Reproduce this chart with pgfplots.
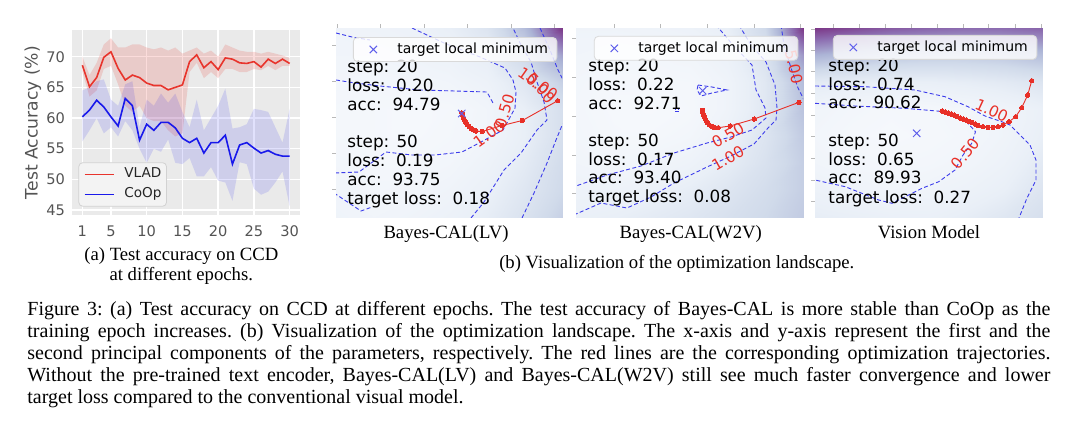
\documentclass[border=0pt]{standalone}
\usepackage{fontspec}
\setmainfont{Liberation Serif}
\newfontfamily\dejavu{DejaVu Sans}
\usepackage{pgfplots}
\usepackage{pgfplotstable}
\pgfplotsset{compat=1.18}

\definecolor{vred}{RGB}{232,52,44}
\definecolor{cblue}{RGB}{25,25,235}
\definecolor{trred}{RGB}{232,48,40}
\definecolor{cdash}{RGB}{60,60,235}
\definecolor{mk}{RGB}{95,95,235}
\definecolor{ggbg}{RGB}{234,234,234}
\definecolor{legbg}{RGB}{243,243,243}

\newcommand{\labfont}{\dejavu\fontsize{7.7}{8}\selectfont}
\newcommand{\annfont}{\dejavu\fontsize{8.4}{9.4}\selectfont}
\newcommand{\capfont}{\fontsize{9.35}{11}\selectfont}
\newcommand{\mcapfont}{\fontsize{10}{11}\selectfont\frenchspacing}
\newcommand{\jline}[1]{\hbox to 511.5pt{#1}}

\pgfplotstableread{
e v c
1  68.6  60.2
2  65.1  61.3
3  66.6  62.9
4  69.9  61.8
5  70.8  60.2
6  68.1  58.7
7  66.2  63.2
8  67.0  62.0
9  66.6  56.4
10 65.7  59.0
11 65.3  58.0
12 65.3  59.3
13 64.6  59.3
14 65.0  58.4
15 65.4  56.7
16 69.2  56.0
17 70.3  56.7
18 68.2  54.3
19 69.2  56.0
20 67.9  56.0
21 69.8  57.2
22 69.6  52.5
23 69.0  55.6
24 68.9  56.0
25 69.2  55.1
26 68.3  54.3
27 69.6  54.7
28 68.9  54.1
29 69.6  53.8
30 68.9  53.8
}\acc

\pgfplotsset{
  colormap={bupu}{rgb255=(248,250,253) rgb255=(233,239,247) rgb255=(208,218,234) rgb255=(172,180,214) rgb255=(140,108,176) rgb255=(118,38,122)},
  land/.style={scale only axis, anchor=north west, height=94.5pt, y dir=reverse,
    ymin=28, ymax=217, axis line style={gray!55, line width=0.4pt},
    tick align=outside, major tick length=1.8pt, tick style={gray!55, line width=0.4pt},
    xticklabels={}, yticklabels={}, xtick pos=right, ytick pos=left,
    point meta min=0, point meta max=1, colormap name=bupu,
    legend style={draw=gray!30, fill=white, fill opacity=0.8, text opacity=1,
      rounded corners=2pt, inner sep=0pt, nodes={inner sep=0pt},
      font=\dejavu\fontsize{7}{8}\selectfont, anchor=north west, column sep=0pt},
    legend cell align=left,
    legend image code/.code={\path[draw=none, fill=none] (0pt,-6pt) rectangle (22pt,6pt); \draw[##1] plot coordinates {(10pt,0pt)};}},
  cline/.style={forget plot, draw=cdash, dash pattern=on 2pt off 1.2pt, line width=0.45pt},
  traj/.style={forget plot, trred, line width=0.45pt, mark=*, mark size=1.1pt, mark options={solid, fill=trred, draw=trred, line width=0pt}},
  tmin/.style={only marks, mark=x, mark size=2.6pt, color=mk, mark options={line width=0.5pt}},
}

\begin{document}
\begin{tikzpicture}

% ---------------- (a) ----------------
\begin{axis}[at={(36pt,-15pt)}, anchor=north west, scale only axis, width=114pt, height=92.5pt,
  xmin=-0.45, xmax=31.45, ymin=44.2, ymax=74.35,
  xtick={1,5,10,15,20,25,30}, ytick={45,50,55,60,65,70},
  axis background/.style={fill=ggbg},
  xmajorgrids, ymajorgrids, grid style={white, line width=0.7pt},
  axis line style={draw=none}, major tick length=0pt,
  /pgf/number format/assume math mode=true,
  tick label style={font=\dejavu\fontsize{7.3}{8.5}\selectfont, text=black!67},
  xticklabel style={yshift=-2pt},
  every axis y label/.style={at={(axis description cs:-0.171,0.5)}, rotate=90, anchor=center, font=\dejavu\fontsize{8.6}{10}\selectfont, text=black!67},
  ylabel={Test Accuracy (\%)},
  legend style={at={(0.028,0.045)}, anchor=south west, fill=legbg, draw=gray!35, rounded corners=2pt,
    font=\dejavu\fontsize{6.8}{8}\selectfont, text=black!85, inner xsep=2.5pt, inner ysep=2.4pt,
    row sep=3pt, column sep=5pt, nodes={inner sep=0pt, text height=5.2pt, text depth=1.8pt}},
  legend cell align=left,
  legend image code/.code={\draw[#1] (0pt,0pt) -- (14.5pt,0pt);},
]
\addplot[fill=vred, fill opacity=0.17, draw=none, forget plot] coordinates {
(1,70.0)(2,67.0)(3,69.0)(4,72.0)(5,73.0)(6,71.5)(7,71.5)(8,72.0)(9,72.0)(10,71.5)(11,71.2)(12,71.5)(13,71.0)(14,71.5)(15,70.5)(16,71.0)(17,71.5)(18,70.5)(19,71.0)(20,70.0)(21,72.0)(22,71.5)(23,71.0)(24,70.8)(25,70.8)(26,70.5)(27,70.8)(28,70.5)(29,70.2)(30,69.8)
(30,68.5)(29,68.5)(28,67.8)(27,68.5)(26,67.8)(25,68.0)(24,67.5)(23,67.5)(22,68.0)(21,68.0)(20,66.5)(19,67.5)(18,66.5)(17,69.0)(16,67.5)(15,57.5)(14,57.0)(13,58.0)(12,59.5)(11,59.5)(10,60.0)(9,62.0)(8,61.0)(7,62.0)(6,65.5)(5,68.5)(4,68.0)(3,64.5)(2,63.5)(1,67.5)} -- cycle;
\addplot[fill=cblue, fill opacity=0.13, draw=none, forget plot] coordinates {
(1,64.5)(2,65.0)(3,66.0)(4,66.3)(5,63.0)(6,62.0)(7,65.5)(8,66.0)(9,58.5)(10,63.0)(11,62.0)(12,64.0)(13,62.5)(14,64.0)(15,61.0)(16,58.5)(17,63.0)(18,58.0)(19,60.0)(20,62.0)(21,64.8)(22,58.3)(23,58.5)(24,59.0)(25,61.5)(26,61.3)(27,61.0)(28,58.5)(29,56.0)(30,61.5)
(30,45.6)(29,51.3)(28,49.5)(27,48.0)(26,47.5)(25,48.5)(24,52.5)(23,52.8)(22,46.5)(21,49.5)(20,49.8)(19,52.0)(18,50.5)(17,50.5)(16,53.5)(15,52.5)(14,52.7)(13,56.5)(12,54.5)(11,55.0)(10,52.7)(9,55.0)(8,58.0)(7,59.5)(6,57.0)(5,58.5)(4,57.5)(3,60.0)(2,58.0)(1,56.2)} -- cycle;
\addplot[vred, line width=0.8pt] table[x=e, y=v]{\acc};
\addlegendentry{VLAD}
\addplot[cblue, line width=0.8pt] table[x=e, y=c]{\acc};
\addlegendentry{CoOp}
\end{axis}

\node[anchor=base, inner sep=0pt, font=\capfont] at (90.65pt,-130.3pt) {(a) Test accuracy on CCD};
\node[anchor=base, inner sep=0pt, font=\capfont] at (90.65pt,-140.3pt) {at different epochs.};

% ---------------- (b) panel 1 ----------------
\begin{axis}[land, at={(168pt,-14pt)}, width=113pt, xmin=336, xmax=562,
  xtick={337.3,380.7,424.1,467.5,510.9,554.3}, ytick={45,81.7,117.3,153.3,189.3},
  legend style={at={(0.075,0.952)}}]
\addplot[surf, shader=interp, mesh/cols=7, point meta=explicit, forget plot] table[meta=c]{
x y c
336 28 .12
373.7 28 .13
411.3 28 .15
449 28 .20
486.7 28 .30
524.3 28 .55
562 28 .95
336 55 .10
373.7 55 .10
411.3 55 .12
449 55 .15
486.7 55 .22
524.3 55 .40
562 55 .65
336 82 .08
373.7 82 .07
411.3 82 .08
449 82 .10
486.7 82 .15
524.3 82 .28
562 82 .45
336 109 .06
373.7 109 .05
411.3 109 .04
449 109 .05
486.7 109 .10
524.3 109 .20
562 109 .35
336 136 .06
373.7 136 .05
411.3 136 .04
449 136 .06
486.7 136 .10
524.3 136 .20
562 136 .35
336 163 .08
373.7 163 .06
411.3 163 .06
449 163 .08
486.7 163 .14
524.3 163 .24
562 163 .38
336 190 .10
373.7 190 .08
411.3 190 .09
449 190 .12
486.7 190 .18
524.3 190 .28
562 190 .40
336 217 .12
373.7 217 .10
411.3 217 .12
449 217 .16
486.7 217 .22
524.3 217 .32
562 217 .45
};
\addplot[cline] coordinates {(336,33) (352,37) (370,40)};
\addplot[cline] coordinates {(336,80) (355,83) (380,86) (420,90) (455,91) (487,92) (493,103)};
\addplot[cline] coordinates {(412,28) (444,43) (480,57) (505,68) (513,80) (516,92) (515,108) (508,121) (503,130) (481,142) (462,152) (435,155) (412,155) (386,152) (359,172) (334,173)};
\addplot[cline] coordinates {(334,193) (361,211) (372,207)};
\addplot[cline] coordinates {(471,218) (484,202) (504,170) (521,153) (537,130) (547,120) (544,102) (537,82) (531,62) (521,45) (513,28)};
\addplot[cline] coordinates {(522,218) (534,193) (547,163) (556,140) (563,123)};
\addplot[cline] coordinates {(540,28) (550,50) (558,70) (563,80)};
\addplot[traj] coordinates {(557.7,100.7) (522.4,120.5) (502,125.5) (482,131.5) (476,131)};
\addplot[traj] coordinates {(476,131) (473.5,129.8) (471,128.3) (469,126.5) (467.2,124.5) (465.7,122.3) (464.4,120) (463.3,117.6) (462.5,115.2) (461.8,112.8)};
\addplot[tmin] coordinates {(461.7,113.5)};
\addlegendentry{target local minimum\hspace*{4.5pt}}
\node[text=trred, rotate=-35, font=\labfont, inner sep=0pt] at (axis cs:538,84) {10.00};
\node[text=trred, rotate=-50, font=\labfont, inner sep=0pt] at (axis cs:541,88) {5.00};
\node[text=trred, rotate=74, font=\labfont, inner sep=0pt] at (axis cs:505,111) {0.50};
\node[text=trred, rotate=36, font=\labfont, inner sep=0pt] at (axis cs:489,134) {1.00};
\node[anchor=base west, inner sep=0pt, font=\annfont] at (axis cs:347,72.5) {step: 20};
\node[anchor=base west, inner sep=0pt, font=\annfont] at (axis cs:347,91.2) {loss:~~0.20};
\node[anchor=base west, inner sep=0pt, font=\annfont] at (axis cs:347,110) {acc:~~94.79};
\node[anchor=base west, inner sep=0pt, font=\annfont] at (axis cs:347,147.5) {step: 50};
\node[anchor=base west, inner sep=0pt, font=\annfont] at (axis cs:347,166.3) {loss:~~0.19};
\node[anchor=base west, inner sep=0pt, font=\annfont] at (axis cs:347,185.1) {acc:~~93.75};
\node[anchor=base west, inner sep=0pt, font=\annfont] at (axis cs:347,204) {target loss:~~0.18};
\end{axis}

% ---------------- (b) panel 2 ----------------
\begin{axis}[land, at={(288pt,-14pt)}, width=113.5pt, xmin=576, xmax=803,
  xtick={614,660.7,707.3,754,800.7}, ytick={38.3,77.3,116,155,193.3},
  legend style={at={(0.079,0.958)}}]
\addplot[surf, shader=interp, mesh/cols=7, point meta=explicit, forget plot] table[meta=c]{
x y c
576 28 .12
613.8 28 .12
651.7 28 .13
689.5 28 .15
727.3 28 .20
765.2 28 .40
803 28 .95
576 55 .10
613.8 55 .08
651.7 55 .08
689.5 55 .10
727.3 55 .16
765.2 55 .32
803 55 .68
576 82 .08
613.8 82 .05
651.7 82 .05
689.5 82 .06
727.3 82 .12
765.2 82 .27
803 82 .55
576 109 .07
613.8 109 .04
651.7 109 .03
689.5 109 .05
727.3 109 .12
765.2 109 .27
803 109 .52
576 136 .08
613.8 136 .05
651.7 136 .05
689.5 136 .08
727.3 136 .16
765.2 136 .30
803 136 .48
576 163 .10
613.8 163 .08
651.7 163 .10
689.5 163 .14
727.3 163 .22
765.2 163 .33
803 163 .46
576 190 .14
613.8 190 .14
651.7 190 .17
689.5 190 .22
727.3 190 .29
765.2 190 .37
803 190 .46
576 217 .18
613.8 217 .20
651.7 217 .24
689.5 217 .28
727.3 217 .34
765.2 217 .40
803 217 .48
};
\addplot[cline] coordinates {(716,25) (733,45) (752,65) (756,90) (765,108) (766,118) (752,130) (731,137) (707,143) (674,153) (641,166) (607,175) (576,186)};
\addplot[cline] coordinates {(739,25) (751,45) (766,62) (775,85) (777,108) (776,120) (768,128) (754,144) (731,156) (707,167) (674,183) (651,197) (627,208) (601,203) (576,214)};
\addplot[cline] coordinates {(781,25) (784,45) (791,68) (798,88) (805,102)};
\addplot[cline] coordinates {(698,85) (712,87) (727,90) (712,93) (701,96) (697,90) (698,85)};
\addplot[cline] coordinates {(675,108.5) (678.5,108.5) (678.5,111.5) (675,111.5) (675,108.5)};
\addplot[traj] coordinates {(799,102.3) (754.3,119) (730,126) (718.3,127.7) (714,127.3)};
\addplot[traj] coordinates {(714,127.3) (711.5,126.3) (709.3,124.8) (707.5,122.8) (706,120.5) (704.8,118) (703.8,115.5) (703,113) (702.5,110.5)};
\addplot[tmin] coordinates {(702.7,90.7)};
\addlegendentry{target local minimum\hspace*{4.5pt}}
\node[text=trred, rotate=30, font=\labfont, inner sep=0pt] at (axis cs:728,135) {0.50};
\node[text=trred, rotate=30, font=\labfont, inner sep=0pt] at (axis cs:728,158) {1.00};
\node[text=trred, rotate=-78, font=\labfont, inner sep=0pt] at (axis cs:794,67) {5.00};
\node[anchor=base west, inner sep=0pt, font=\annfont] at (axis cs:588,71.7) {step: 20};
\node[anchor=base west, inner sep=0pt, font=\annfont] at (axis cs:588,90.4) {loss:~~0.22};
\node[anchor=base west, inner sep=0pt, font=\annfont] at (axis cs:588,109) {acc:~~92.71};
\node[anchor=base west, inner sep=0pt, font=\annfont] at (axis cs:588,146.3) {step: 50};
\node[anchor=base west, inner sep=0pt, font=\annfont] at (axis cs:588,165) {loss:~~0.17};
\node[anchor=base west, inner sep=0pt, font=\annfont] at (axis cs:588,183.7) {acc:~~93.40};
\node[anchor=base west, inner sep=0pt, font=\annfont] at (axis cs:588,202.5) {target loss:~~0.08};
\end{axis}

% ---------------- (b) panel 3 ----------------
\begin{axis}[land, at={(407.5pt,-14pt)}, width=113.5pt, xmin=815, xmax=1042,
  xtick={833.7,859.7,885.3,911.3,937.3,963,988.7,1015.3,1041.3}, ytick={29,50.7,71.7,93.3,115,136.7,158.3,180,201.7},
  legend style={at={(0.079,0.963)}}]
\addplot[surf, shader=interp, mesh/cols=7, point meta=explicit, forget plot] table[meta=c]{
x y c
815 28 .95
852.8 28 .90
890.7 28 .85
928.5 28 .82
966.3 28 .80
1004.2 28 .80
1042 28 .82
815 55 .60
852.8 55 .55
890.7 55 .50
928.5 55 .48
966.3 55 .48
1004.2 55 .50
1042 55 .55
815 82 .25
852.8 82 .22
890.7 82 .20
928.5 82 .20
966.3 82 .22
1004.2 82 .25
1042 82 .30
815 109 .10
852.8 109 .07
890.7 109 .05
928.5 109 .06
966.3 109 .08
1004.2 109 .12
1042 109 .18
815 136 .08
852.8 136 .05
890.7 136 .04
928.5 136 .05
966.3 136 .07
1004.2 136 .12
1042 136 .20
815 163 .10
852.8 163 .07
890.7 163 .06
928.5 163 .07
966.3 163 .10
1004.2 163 .15
1042 163 .25
815 190 .15
852.8 190 .12
890.7 190 .10
928.5 190 .12
966.3 190 .15
1004.2 190 .20
1042 190 .30
815 217 .22
852.8 217 .20
890.7 217 .18
928.5 217 .18
966.3 217 .22
1004.2 217 .28
1042 217 .35
};
\addplot[cline] coordinates {(815,86) (865,86.7) (915,90) (945,96.7) (968,106.7) (985,116) (1001.7,121.7) (1010,125) (1020,135) (1030,145) (1036,160) (1036,180) (1027,198) (1019,218)};
\addplot[cline] coordinates {(815,103.3) (855,106) (905,108.3) (945,111.7) (965,120) (975.5,131.7) (971.7,143.3) (963,155) (955,170) (938.7,181.7) (922,188.3) (892,203.3) (878.7,200) (845.3,186.7) (815,180)};
\addplot[traj] coordinates {(1031.7,80.7) (1027.7,95) (1021.7,107.7) (1015.7,116.7) (1009,121.7) (1003,125) (998,126.7) (993,127.3) (988,127.3) (983,126.7) (978,125.3) (975,124) (972,122.5) (969,121.3) (966,120) (963,119) (960,118) (957,116.5) (954,115) (951,114) (948,113) (945,112) (942,111)};
\addplot[tmin] coordinates {(916.7,133.3)};
\addlegendentry{target local minimum\hspace*{4.5pt}}
\node[text=trred, rotate=-25, font=\labfont, inner sep=0pt] at (axis cs:991.7,110.7) {1.00};
\node[text=trred, rotate=51, font=\labfont, inner sep=0pt] at (axis cs:965.3,153.3) {0.50};
\node[anchor=base west, inner sep=0pt, font=\annfont] at (axis cs:828,71.5) {step: 20};
\node[anchor=base west, inner sep=0pt, font=\annfont] at (axis cs:828,90.2) {loss:~~0.74};
\node[anchor=base west, inner sep=0pt, font=\annfont] at (axis cs:828,108.5) {acc:~~90.62};
\node[anchor=base west, inner sep=0pt, font=\annfont] at (axis cs:828,146.3) {step: 50};
\node[anchor=base west, inner sep=0pt, font=\annfont] at (axis cs:828,165) {loss:~~0.65};
\node[anchor=base west, inner sep=0pt, font=\annfont] at (axis cs:828,183.7) {acc:~~89.93};
\node[anchor=base west, inner sep=0pt, font=\annfont] at (axis cs:828,203) {target loss:~~0.27};
\end{axis}

\node[anchor=base, inner sep=0pt, font=\capfont] at (223pt,-119pt) {Bayes-CAL(LV)};
\node[anchor=base, inner sep=0pt, font=\capfont] at (345.4pt,-119pt) {Bayes-CAL(W2V)};
\node[anchor=base, inner sep=0pt, font=\capfont] at (464.5pt,-119pt) {Vision Model};
\node[anchor=base, inner sep=0pt, font=\capfont] at (338.4pt,-134.3pt) {(b) Visualization of the optimization landscape.};

\node[anchor=base west, inner sep=0pt, font=\mcapfont] at (13.5pt,-157.5pt) {\vtop{\baselineskip=11pt
\jline{Figure 3: (a) Test accuracy on CCD at different epochs. The test accuracy of Bayes-CAL is more stable than CoOp as the}
\jline{training epoch increases. (b) Visualization of the optimization landscape. The x-axis and y-axis represent the first and the}
\jline{second principal components of the parameters, respectively. The red lines are the corresponding optimization trajectories.}
\jline{Without the pre-trained text encoder, Bayes-CAL(LV) and Bayes-CAL(W2V) still see much faster convergence and lower}
\hbox{target loss compared to the conventional visual model.}}};

\pgfresetboundingbox
\path[use as bounding box] (0pt,0pt) rectangle (540pt,-222.5pt);
\end{tikzpicture}
\end{document}
